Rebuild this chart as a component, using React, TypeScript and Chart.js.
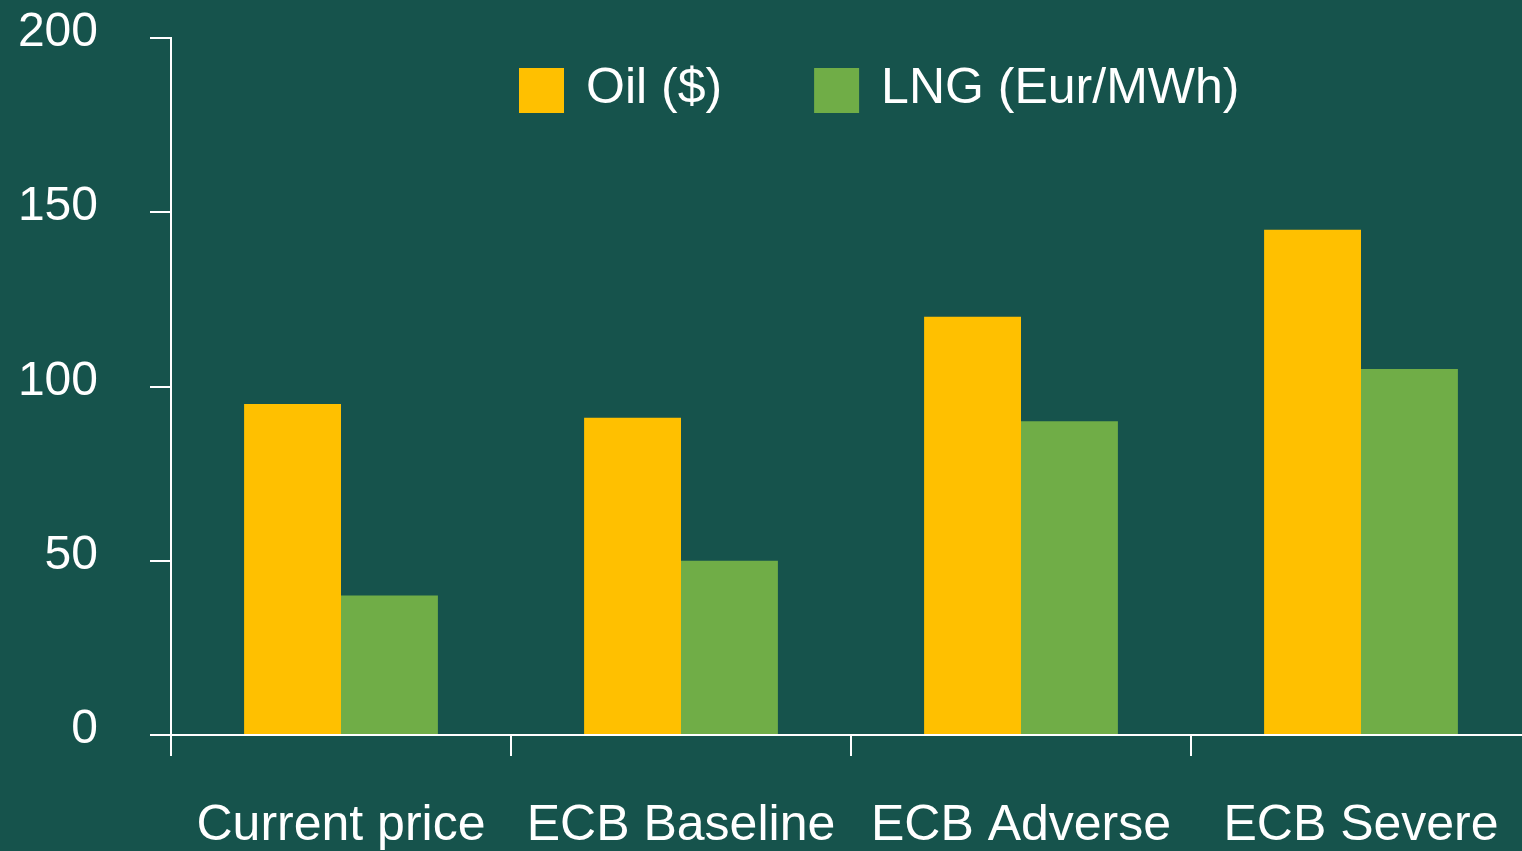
import React, { useEffect, useRef } from "react";
import { Chart, registerables } from "chart.js";

Chart.register(...registerables);

const categories = ["Current price", "ECB Baseline", "ECB Adverse", "ECB Severe"];
const oilValues = [95, 91, 120, 145];
const lngValues = [40, 50, 90, 105];
const seriesLabels = ["Oil ($)", "LNG (Eur/MWh)"];
const seriesColors = ["#FFC000", "#70AD47"];
const yTicks = [0, 50, 100, 150, 200];

const BG = "#16534C";
const FONT = "'Liberation Sans', Arial, sans-serif";

const bgPlugin = {
  id: "bgFill",
  beforeDraw(chart: any) {
    const ctx = chart.ctx;
    ctx.save();
    ctx.fillStyle = BG;
    ctx.fillRect(0, 0, chart.width, chart.height);
    ctx.restore();
  },
};

const legendPlugin = {
  id: "customLegend",
  afterDraw(chart: any) {
    const ctx = chart.ctx;
    ctx.save();
    ctx.font = `50px ${FONT}`;
    ctx.textBaseline = "alphabetic";
    ctx.textAlign = "left";
    let x = 519;
    const boxTop = 68;
    const box = 45;
    chart.data.datasets.forEach((ds: any) => {
      ctx.fillStyle = ds.backgroundColor;
      ctx.fillRect(x, boxTop, box, box);
      ctx.fillStyle = "#FFFFFF";
      ctx.fillText(ds.label, x + box + 22, 103);
      const w = ctx.measureText(ds.label).width;
      x = x + box + 22 + w + 92;
    });
    ctx.restore();
  },
};

export default function App() {
  const ref = useRef<HTMLCanvasElement | null>(null);

  useEffect(() => {
    document.body.style.background = BG;
    const canvas = ref.current;
    if (!canvas) return;
    const chart = new Chart(canvas, {
      type: "bar",
      data: {
        labels: categories,
        datasets: [
          {
            label: seriesLabels[0],
            data: oilValues,
            backgroundColor: seriesColors[0],
            borderWidth: 0,
            categoryPercentage: 0.57,
            barPercentage: 1.0,
          },
          {
            label: seriesLabels[1],
            data: lngValues,
            backgroundColor: seriesColors[1],
            borderWidth: 0,
            categoryPercentage: 0.57,
            barPercentage: 1.0,
          },
        ],
      },
      options: {
        responsive: false,
        devicePixelRatio: 1,
        animation: false,
        layout: { padding: { top: 38, right: 9, left: 0, bottom: 0 } },
        plugins: {
          legend: { display: false },
          tooltip: { enabled: false },
        },
        scales: {
          x: {
            z: 1,
            grid: {
              display: true,
              drawOnChartArea: false,
              drawTicks: true,
              tickLength: 21,
              color: "#FFFFFF",
              lineWidth: 2,
              offset: true,
            },
            border: { display: true, color: "#FFFFFF", width: 2 },
            ticks: {
              color: "#FFFFFF",
              font: { family: FONT, size: 50 },
              padding: 40,
              maxRotation: 0,
              autoSkip: false,
            },
            afterFit(scale: any) {
              scale.height = 116;
              scale.paddingLeft = 0;
              scale.paddingRight = 0;
            },
          },
          y: {
            z: 1,
            min: 0,
            max: 200,
            afterBuildTicks(scale: any) {
              scale.ticks = yTicks.map((v) => ({ value: v }));
            },
            grid: {
              display: true,
              drawOnChartArea: false,
              drawTicks: true,
              tickLength: 21,
              color: "#FFFFFF",
              lineWidth: 2,
            },
            border: { display: true, color: "#FFFFFF", width: 2 },
            ticks: {
              color: "#FFFFFF",
              font: { family: FONT, size: 48 },
              padding: 52,
              labelOffset: -5,
            },
            afterFit(scale: any) {
              scale.width = 171;
              scale.paddingTop = 0;
              scale.paddingBottom = 0;
            },
          },
        },
      },
      plugins: [bgPlugin, legendPlugin],
    });
    return () => chart.destroy();
  }, []);

  return (
    <div
      style={{
        position: "fixed",
        left: 0,
        top: 0,
        width: 1522,
        height: 851,
        overflow: "hidden",
        background: BG,
      }}
    >
      <canvas ref={ref} width={1540} height={851} style={{ display: "block" }} />
    </div>
  );
}
